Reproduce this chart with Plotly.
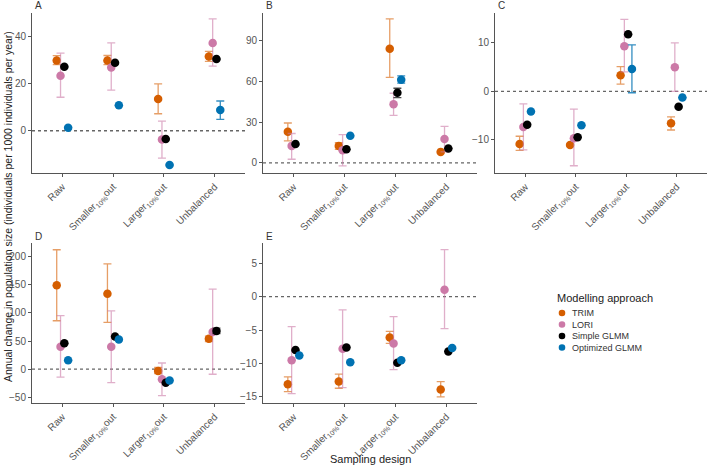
import plotly.graph_objects as go

designs = ["Raw", "Smaller<sub>10%</sub>out", "Larger<sub>10%</sub>out", "Unbalanced"]
methods = ["TRIM", "LORI", "Simple GLMM", "Optimized GLMM"]
colors = ["#D55E00", "#CC79A7", "#000000", "#0072B2"]
err_colors = ["rgba(213,94,0,0.6)", "rgba(204,121,167,0.6)", "rgba(0,0,0,0.7)", "rgba(0,114,178,0.8)"]

# Panel A
A_TRIM = [29.8, 29.8, 13.5, 31.5]
A_TRIM_lo = [28.0, 28.0, 7.2, 29.4]
A_TRIM_hi = [31.8, 31.9, 19.9, 33.6]
A_LORI = [23.3, 26.8, -3.7, 37.2]
A_LORI_lo = [14.2, 17.2, -11.6, 27.4]
A_LORI_hi = [32.9, 37.2, 4.1, 47.4]
A_SIMPLE = [27.1, 28.8, -3.5, 30.4]
A_SIMPLE_lo = [None, None, None, None]
A_SIMPLE_hi = [None, None, None, None]
A_OPT = [1.3, 10.8, -14.5, 8.8]
A_OPT_lo = [None, None, None, 4.8]
A_OPT_hi = [None, None, None, 12.6]

# Panel B
B_TRIM = [22.9, 12.5, 83.8, 8.1]
B_TRIM_lo = [16.2, 10.0, 62.7, None]
B_TRIM_hi = [29.3, 14.8, 105.7, None]
B_LORI = [12.5, 9.3, 43.0, 17.5]
B_LORI_lo = [2.7, -2.2, 34.9, 8.1]
B_LORI_hi = [21.6, 20.7, 51.1, 26.8]
B_SIMPLE = [13.8, 10.0, 51.4, 10.6]
B_SIMPLE_lo = [None, None, 47.9, None]
B_SIMPLE_hi = [None, None, 54.8, None]
B_OPT = [None, 19.9, 61.0, None]
B_OPT_lo = [None, None, 58.5, None]
B_OPT_hi = [None, None, 63.9, None]

# Panel C
C_TRIM = [-10.9, -11.1, 3.3, -6.6]
C_TRIM_lo = [-12.2, None, 1.5, -8.0]
C_TRIM_hi = [-9.3, None, 5.1, -5.3]
C_LORI = [-7.4, -9.7, 9.3, 5.0]
C_LORI_lo = [-12.1, -15.4, 4.0, 0.0]
C_LORI_hi = [-2.6, -3.7, 14.9, 10.0]
C_SIMPLE = [-6.9, -9.5, 11.8, -3.2]
C_SIMPLE_lo = [None, None, None, None]
C_SIMPLE_hi = [None, None, None, None]
C_OPT = [-4.2, -7.0, 4.6, -1.3]
C_OPT_lo = [None, None, -0.3, None]
C_OPT_hi = [None, None, 9.6, None]

# Panel D
D_TRIM = [149, 134, -3, 54]
D_TRIM_lo = [86, 83, -8, 49]
D_TRIM_hi = [212, 187, 3, 58.6]
D_LORI = [40, 40, -18, 66]
D_LORI_lo = [-14, -24, -47, -9]
D_LORI_hi = [95, 103.5, 11, 142]
D_SIMPLE = [46, 58, -24, 68]
D_SIMPLE_lo = [None, None, None, 63]
D_SIMPLE_hi = [None, None, None, 73]
D_OPT = [16, 52.6, -20, None]
D_OPT_lo = [None, None, None, None]
D_OPT_hi = [None, None, None, None]

# Panel E
E_TRIM = [-13.1, -12.7, -6.1, -13.9]
E_TRIM_lo = [-14.2, -13.7, -7.0, -15.0]
E_TRIM_hi = [-12.0, -11.6, -5.2, -12.7]
E_LORI = [-9.5, -7.8, -7.0, 1.0]
E_LORI_lo = [-14.5, -13.6, -10.9, -4.8]
E_LORI_hi = [-4.5, -2.0, -3.0, 7.0]
E_SIMPLE = [-8.0, -7.6, -9.9, -8.2]
E_SIMPLE_lo = [None, None, None, None]
E_SIMPLE_hi = [None, None, None, None]
E_OPT = [-8.8, -9.8, -9.5, -7.7]
E_OPT_lo = [None, None, None, None]
E_OPT_hi = [None, None, None, None]

panels = {
    "A": [(A_TRIM, A_TRIM_lo, A_TRIM_hi), (A_LORI, A_LORI_lo, A_LORI_hi),
          (A_SIMPLE, A_SIMPLE_lo, A_SIMPLE_hi), (A_OPT, A_OPT_lo, A_OPT_hi)],
    "B": [(B_TRIM, B_TRIM_lo, B_TRIM_hi), (B_LORI, B_LORI_lo, B_LORI_hi),
          (B_SIMPLE, B_SIMPLE_lo, B_SIMPLE_hi), (B_OPT, B_OPT_lo, B_OPT_hi)],
    "C": [(C_TRIM, C_TRIM_lo, C_TRIM_hi), (C_LORI, C_LORI_lo, C_LORI_hi),
          (C_SIMPLE, C_SIMPLE_lo, C_SIMPLE_hi), (C_OPT, C_OPT_lo, C_OPT_hi)],
    "D": [(D_TRIM, D_TRIM_lo, D_TRIM_hi), (D_LORI, D_LORI_lo, D_LORI_hi),
          (D_SIMPLE, D_SIMPLE_lo, D_SIMPLE_hi), (D_OPT, D_OPT_lo, D_OPT_hi)],
    "E": [(E_TRIM, E_TRIM_lo, E_TRIM_hi), (E_LORI, E_LORI_lo, E_LORI_hi),
          (E_SIMPLE, E_SIMPLE_lo, E_SIMPLE_hi), (E_OPT, E_OPT_lo, E_OPT_hi)],
}

W, H = 709, 468
FONT = "Liberation Sans, Arial, sans-serif"
# panel pixel boxes (x0, x1, ytop, ybottom)
boxes = {
    "A": (32, 245, 13, 173),
    "B": (263, 477, 13, 173),
    "C": (495, 707, 13, 173),
    "D": (32, 245, 243, 403),
    "E": (263, 477, 243, 403),
}
yranges = {"A": (-17.9, 49.9), "B": (-7.4, 110), "C": (-16.9, 16.2),
           "D": (-60, 224), "E": (-15.9, 8)}
yticks = {"A": [0, 20, 40], "B": [0, 30, 60, 90], "C": [-10, 0, 10],
          "D": [-50, 0, 50, 100, 150, 200], "E": [-15, -10, -5, 0, 5]}

offsets = [-0.1125, -0.0375, 0.0375, 0.1125]
axis_grey = "#555555"
tick_font = dict(family=FONT, size=10, color="#555555")

fig = go.Figure()
layout = {}
shapes = []
annotations = []

for i, key in enumerate(["A", "B", "C", "D", "E"]):
    n = "" if i == 0 else str(i + 1)
    xa, ya = "x" + n, "y" + n
    x0, x1, yt, yb = boxes[key]
    layout["xaxis" + n] = dict(
        domain=[x0 / W, x1 / W], anchor=ya, range=[-0.6, 3.6],
        tickmode="array", tickvals=[0, 1, 2, 3], ticktext=designs,
        tickangle=-45, showline=True, linecolor=axis_grey, linewidth=1,
        ticks="outside", ticklen=3, tickcolor=axis_grey, showgrid=False,
        zeroline=False, tickfont=tick_font, fixedrange=True)
    layout["yaxis" + n] = dict(
        domain=[1 - yb / H, 1 - yt / H], anchor=xa, range=list(yranges[key]),
        tickmode="array", tickvals=yticks[key], showline=True,
        linecolor=axis_grey, linewidth=1, ticks="outside", ticklen=3,
        tickcolor=axis_grey, showgrid=False, zeroline=False,
        tickfont=tick_font, fixedrange=True)
    shapes.append(dict(type="line", xref=xa + " domain", yref=ya,
                       x0=0, x1=1, y0=0, y1=0,
                       line=dict(color="#666666", width=1.3, dash="3px,3px"),
                       layer="below"))
    annotations.append(dict(text=key, xref="paper", yref="paper",
                            x=(x0 + 1) / W, y=1 - (yt - 7) / H,
                            xanchor="left", yanchor="middle", showarrow=False,
                            font=dict(family=FONT, size=10, color="#333333")))
    for m, (vals, lo, hi) in enumerate(panels[key]):
        xs, ys, ep, em = [], [], [], []
        for c in range(4):
            if vals[c] is None:
                continue
            xs.append(c + offsets[m])
            ys.append(vals[c])
            if hi[c] is None:
                ep.append(float("nan"))
                em.append(float("nan"))
            else:
                ep.append(hi[c] - vals[c])
                em.append(vals[c] - lo[c])
        fig.add_trace(go.Scatter(
            x=xs, y=ys, mode="markers", xaxis=xa, yaxis=ya,
            name=methods[m], showlegend=False,
            marker=dict(color=colors[m], size=8.5, line=dict(width=0)),
            error_y=dict(type="data", symmetric=False, array=ep, arrayminus=em,
                         color=err_colors[m], thickness=1.3, width=4),
            hoverinfo="skip"))

# custom compact legend
leg_x, leg_title_y, leg_y0, leg_dy = 555, 298, 313, 11.5
annotations.append(dict(text="Modelling approach", xref="paper", yref="paper",
                        x=leg_x / W, y=1 - leg_title_y / H, xanchor="left",
                        yanchor="middle", showarrow=False,
                        font=dict(family=FONT, size=11, color="#222222")))
for m, name in enumerate(methods):
    cy = leg_y0 + m * leg_dy
    shapes.append(dict(type="circle", xref="paper", yref="paper",
                       xsizemode="pixel", ysizemode="pixel",
                       xanchor=(leg_x + 7) / W, yanchor=1 - cy / H,
                       x0=-3.3, x1=3.3, y0=-3.3, y1=3.3,
                       fillcolor=colors[m], line=dict(width=0)))
    annotations.append(dict(text=name, xref="paper", yref="paper",
                            x=(leg_x + 15) / W, y=1 - cy / H, xanchor="left",
                            yanchor="middle", showarrow=False,
                            font=dict(family=FONT, size=9, color="#333333")))

annotations.append(dict(
    text="Annual change in population size (individuals per 1000 individuals per year)",
    xref="paper", yref="paper", x=8 / W, y=1 - 207 / H, textangle=-90,
    showarrow=False, xanchor="center", yanchor="middle",
    font=dict(family=FONT, size=10.5, color="#222222")))
annotations.append(dict(
    text="Sampling design", xref="paper", yref="paper", x=370 / W, y=1 - 459 / H,
    showarrow=False, xanchor="center", yanchor="middle",
    font=dict(family=FONT, size=11, color="#222222")))

fig.update_layout(
    **layout,
    width=W, height=H, margin=dict(l=0, r=0, t=0, b=0),
    paper_bgcolor="white", plot_bgcolor="white",
    shapes=shapes, annotations=annotations, showlegend=False,
)

fig.write_html("out.html")
